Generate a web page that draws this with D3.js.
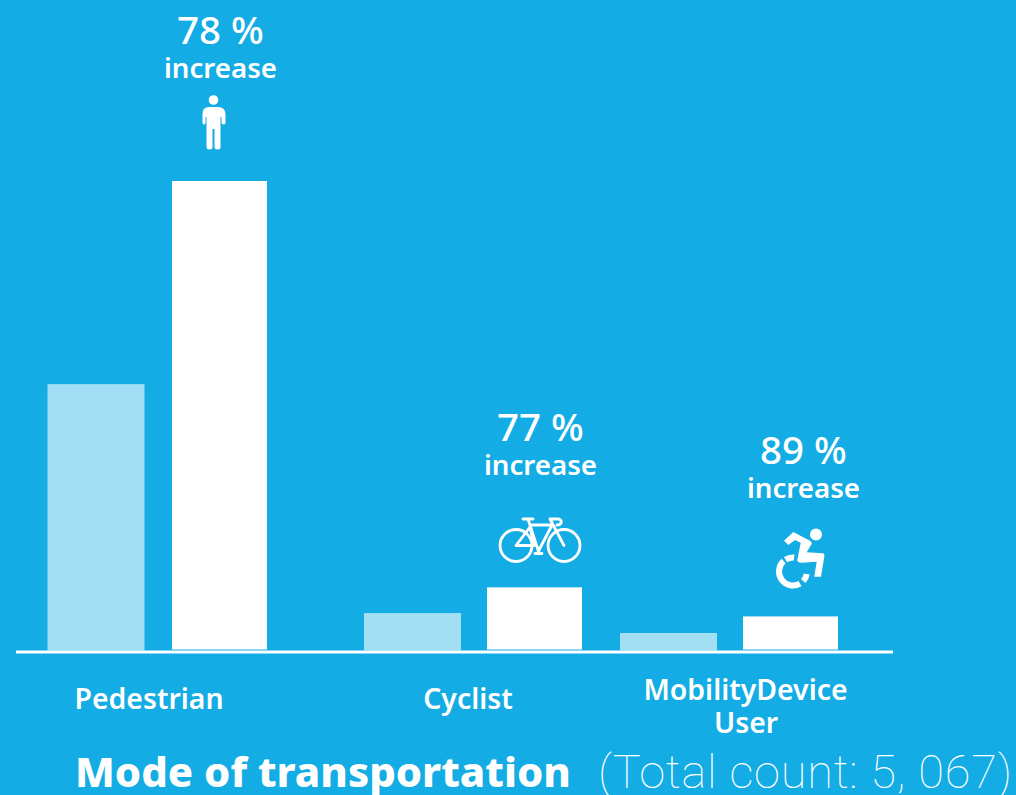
<!DOCTYPE html>
<html><head><meta charset="utf-8">
<script src="https://cdn.jsdelivr.net/npm/d3@7"></script>
<style>html,body{margin:0;padding:0;background:#13ace4;overflow:hidden}svg{display:block}text{font-family:"Noto Sans","Open Sans",sans-serif;fill:#fff}</style>
</head><body><svg id="c" width="1016" height="795"></svg>
<script>
const categories = ["Pedestrian","Cyclist","Mobility"];
const before = [1522,214,100];
const after = [2677,355,189];
const increases = ["78 %","77 %","89 %"];
const svg = d3.select("#c");
const W=1016,H=795;
svg.append("rect").attr("width",W).attr("height",H).attr("fill","#13ace4");
const y = d3.scaleLinear().domain([0,2677]).range([650.5,182]);
const xBefore = d3.scaleOrdinal(categories,[47.5,364,620]);
const xAfter = d3.scaleOrdinal(categories,[172,487,743]);
const g = svg.append("g");
g.selectAll(".b").data(categories).join("rect").attr("class","b")
 .attr("x",d=>xBefore(d)).attr("width",97)
 .attr("y",(d,i)=>y(before[i])).attr("height",(d,i)=>y(0)-y(before[i])).attr("fill","#a2dff5");
g.selectAll(".a").data(categories).join("rect").attr("class","a")
 .attr("x",d=>xAfter(d)).attr("width",95)
 .attr("y",(d,i)=>y(after[i])-1).attr("height",(d,i)=>y(0)-y(after[i])).attr("fill","#fff");
svg.append("line").attr("x1",16).attr("x2",893).attr("y1",652).attr("y2",652).attr("stroke","#fff").attr("stroke-width",3);

const labelX = d3.scaleOrdinal(categories,[220.5,540.5,803.5]);
const pctY = d3.scaleOrdinal(categories,[44,441,464]);
svg.selectAll(".pct").data(categories).join("text").attr("class","pct")
 .attr("x",d=>labelX(d)).attr("y",d=>pctY(d)).attr("text-anchor","middle")
 .attr("font-size",38.5).attr("font-weight",500).text((d,i)=>increases[i]);
svg.selectAll(".inc").data(categories).join("text").attr("class","inc")
 .attr("x",d=>labelX(d)).attr("y",d=>pctY(d)+33.5).attr("text-anchor","middle")
 .attr("font-size",27.7).attr("font-weight",600).text("increase");

const cat = svg.append("g").attr("font-size",28.4).attr("font-weight",600).attr("text-anchor","middle");
cat.append("text").attr("x",149).attr("y",709).text("Pedestrian");
cat.append("text").attr("x",468).attr("y",709).text("Cyclist");
cat.append("text").attr("x",745.5).attr("y",699.5).text("MobilityDevice");
cat.append("text").attr("x",746).attr("y",733).text("User");

svg.append("text").attr("x",75).attr("y",786.5).attr("font-size",41.8).attr("font-weight",800).text("Mode of transportation");
svg.append("text").attr("x",598).attr("y",787.5).attr("font-size",47).attr("font-weight",100).attr("letter-spacing",0.75).style("font-family","Roboto,Lato,sans-serif").text("(Total count: 5, 067)");

// person
const p = svg.append("g").attr("fill","#fff");
p.append("circle").attr("cx",213.5).attr("cy",100).attr("r",4.8);
p.append("path").attr("d","M209 107H218Q225 107 225.500 114V122.500Q225.500 124.500 223.500 124.500Q221.500 124.500 221.500 122.500V117H220.500V147Q220.500 149.500 217.500 149.500Q214.500 149.500 214.500 147V129H212.500V147Q212.500 149.500 209.500 149.500Q206.500 149.500 206.500 147V117H205.500V122.500Q205.500 124.500 204 124.500Q202.500 124.500 202.500 122.500V114Q202.500 107 209 107Z");
// bicycle
const b = svg.append("g").attr("fill","none").attr("stroke","#fff").attr("stroke-width",2.8).attr("stroke-linecap","round").attr("stroke-linejoin","round");
b.append("circle").attr("cx",516).attr("cy",545.5).attr("r",16);
b.append("circle").attr("cx",564).attr("cy",545.5).attr("r",16);
b.append("path").attr("d","M523 519H533M528 519L539 553M531 525H552M516 545.500L530 527L534 545.500ZM552 525L538 552M550 519L564 545.500M535 553.500H542M550 519H559Q562 520 561 523Q560 525 557 525");
// wheelchair
const w = svg.append("g").attr("fill","#fff");
w.append("circle").attr("cx",816).attr("cy",534.5).attr("r",6);
w.append("path").attr("d","M784 540.700L793.300 532L810 540.700Q813 543 811 545L806.700 552.300L822.700 553.300Q825 554 824.300 556.700L821 576.700H814.300L816.700 561.700L801.700 562.700Q797 562.500 797.300 560L800.700 542.700L795 540L788.300 545Z");
const arc = d3.arc().innerRadius(11).outerRadius(17);
const wc = w.append("g").attr("transform","translate(793,571.500)");
const deg = Math.PI/180;
[[150,318],[100,133],[328,365]].forEach(([s,e])=>wc.append("path").attr("d",arc({startAngle:s*deg,endAngle:e*deg})));
</script></body></html>
